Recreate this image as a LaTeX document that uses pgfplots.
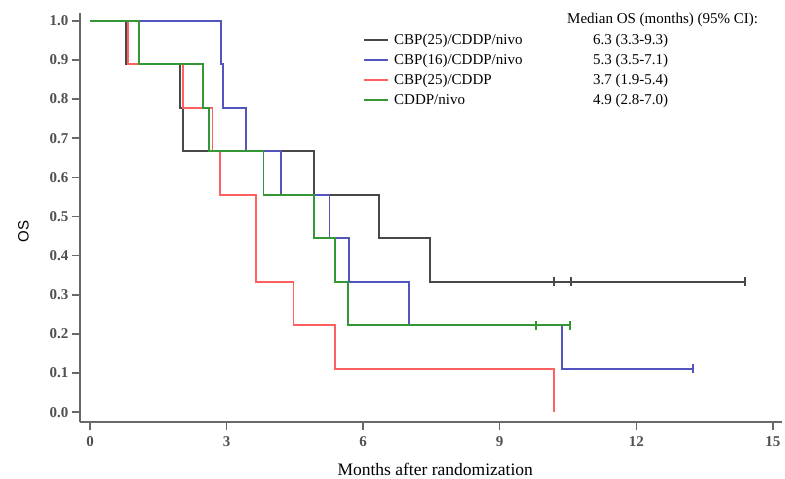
\documentclass[border=0pt]{standalone}
\usepackage{fontspec}
\setmainfont{Liberation Serif}
\setsansfont{Liberation Sans}
\usepackage{pgfplots}
\pgfplotsset{compat=1.18}

\definecolor{kmblack}{RGB}{72,72,72}
\definecolor{kmblue}{RGB}{84,84,190}
\definecolor{kmred}{RGB}{255,96,96}
\definecolor{kmgreen}{RGB}{52,150,52}
\definecolor{axisgray}{RGB}{105,105,105}
\definecolor{tickgray}{RGB}{80,80,80}

\begin{document}
\begin{tikzpicture}
\path[use as bounding box] (-80pt,-57pt) rectangle (705pt,422pt);
\begin{axis}[
    scale only axis,
    width=702pt, height=409pt,
    xmin=-0.22, xmax=15.2,
    ymin=-0.025, ymax=1.02,
    axis x line*=bottom, axis y line*=left,
    axis line style={draw=axisgray, line width=1.8pt},
    xtick={0,3,6,9,12,15},
    ytick={0,0.1,0.2,0.3,0.4,0.5,0.6,0.7,0.8,0.9,1},
    tick align=outside,
    major tick length=8pt,
    tick style={draw=axisgray, line width=1.5pt},
    ticklabel style={font=\fontsize{15}{17}\selectfont\bfseries, text=tickgray},
    /pgf/number format/assume math mode=true,
    y tick label style={/pgf/number format/.cd, fixed, fixed zerofill, precision=1},
    x tick label style={yshift=-3pt},
    xlabel={Months after randomization},
    xlabel style={at={(axis description cs:0.506,-0.1296)}, anchor=base,
        font=\fontsize{17.5}{20}\selectfont},
    ylabel={OS},
    ylabel style={at={(axis description cs:-0.0805,0.465)}, anchor=center,
        font=\sffamily\fontsize{15}{17}\selectfont},
    legend style={draw=none, fill=none, inner sep=0pt,
        at={(axis description cs:0.4031,0.951)}, anchor=north west,
        font=\fontsize{15}{17}\selectfont, row sep=5.5pt,
        nodes={inner xsep=5pt, inner ysep=0pt, text height=11pt, text depth=3.5pt}},
    legend cell align=left,
    legend image code/.code={\draw[#1, line width=2pt] (0pt,0pt) -- (24pt,0pt);},
    clip=false,
]
% CBP(25)/CDDP/nivo
\addplot[const plot, kmblack, line width=1.9pt] coordinates {
    (0,1) (0.79,0.889) (1.98,0.778) (2.04,0.667) (4.92,0.556)
    (6.35,0.444) (7.47,0.333) (14.39,0.333)};
% CBP(16)/CDDP/nivo
\addplot[const plot, kmblue, line width=1.9pt] coordinates {
    (0,1) (2.87,0.889) (2.93,0.778) (3.42,0.667) (4.19,0.556)
    (5.26,0.444) (5.69,0.333) (7.0,0.222) (10.37,0.111) (13.24,0.111)};
% CBP(25)/CDDP
\addplot[const plot, kmred, line width=1.9pt] coordinates {
    (0,1) (0.83,0.889) (2.04,0.778) (2.69,0.667) (2.86,0.556)
    (3.65,0.333) (4.47,0.222) (5.38,0.111) (10.19,0)};
% CDDP/nivo
\addplot[const plot, kmgreen, line width=1.9pt] coordinates {
    (0,1) (1.08,0.889) (2.49,0.778) (2.62,0.667) (3.81,0.556)
    (4.92,0.444) (5.38,0.333) (5.67,0.222) (10.54,0.222)};

% censored
\addplot[forget plot, only marks, mark=|, mark size=4.5pt, kmblack, line width=1.6pt]
    coordinates {(10.19,0.333) (10.56,0.333) (14.39,0.333)};
\addplot[forget plot, only marks, mark=|, mark size=4.5pt, kmblue, line width=1.6pt]
    coordinates {(13.24,0.111)};
\addplot[forget plot, only marks, mark=|, mark size=4.5pt, kmgreen, line width=1.6pt]
    coordinates {(9.8,0.222) (10.54,0.222)};

\legend{\makebox[199pt][l]{CBP(25)/CDDP/nivo}6.3 (3.3-9.3),
        \makebox[199pt][l]{CBP(16)/CDDP/nivo}5.3 (3.5-7.1),
        \makebox[199pt][l]{CBP(25)/CDDP}3.7 (1.9-5.4),
        \makebox[199pt][l]{CDDP/nivo}4.9 (2.8-7.0)}

\node[anchor=base west, inner sep=0pt, font=\fontsize{15}{17}\selectfont]
    at (axis description cs:0.6937,0.9731) {Median OS (months) (95\% CI):};
\end{axis}
\end{tikzpicture}
\end{document}
